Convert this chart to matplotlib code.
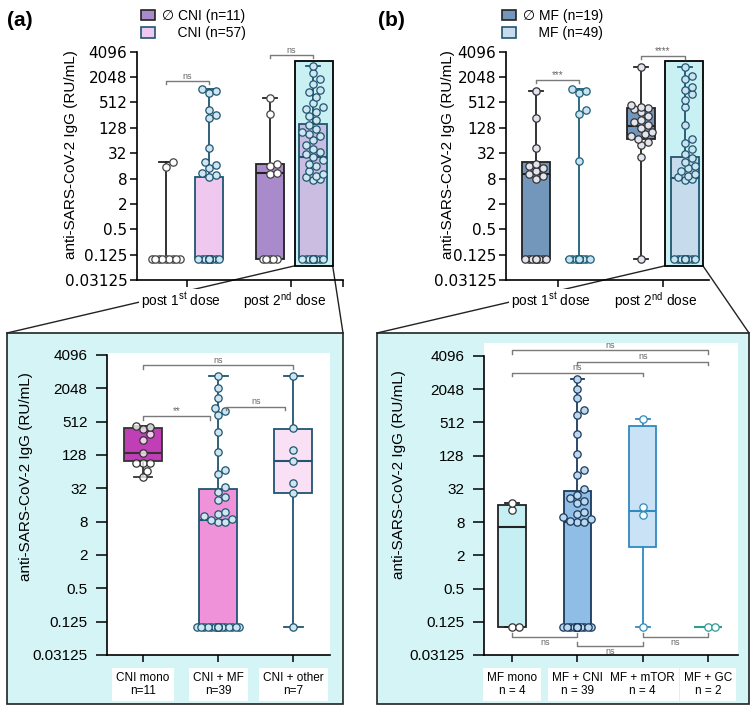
import numpy as np
import matplotlib.pyplot as plt
from matplotlib.patches import Rectangle, Patch
from matplotlib.lines import Line2D
from matplotlib.ticker import NullLocator

plt.rcParams['font.family'] = ['Liberation Sans', 'DejaVu Sans']
plt.rcParams['mathtext.fontset'] = 'custom'
plt.rcParams['mathtext.rm'] = 'Liberation Sans'
plt.rcParams['axes.linewidth'] = 1.2

W, H = 756, 711

# ---------------- data (anti-SARS-CoV-2 IgG, RU/mL) ----------------
ytick_vals = [2.0 ** k for k in (-5, -3, -1, 1, 3, 5, 7, 9, 11, 13)]
ytick_labels = ['0.03125', '0.125', '0.5', '2', '8', '32', '128', '512', '2048', '4096']
dose_labels = [r'post 1$^{\mathrm{st}}$ dose', r'post 2$^{\mathrm{nd}}$ dose']

# (a) top: without CNI / with CNI
a1_nocni = [0.1] * 9 + [15, 20]
a1_cni = [0.1] * 20 + [8.8, 9.5, 11, 14, 17, 20, 43, 215, 256, 340, 850, 950, 1070]
a2_nocni = [0.1] * 5 + [10, 11, 16, 18, 270, 650]
a2_cni = [0.1] * 14 + [7.5, 8, 8.5, 9, 10, 12, 16, 18, 22, 26, 30, 35, 40, 50, 64, 80, 90,
                       100, 120, 150, 200, 250, 300, 350, 400, 500, 700, 900, 1000, 1400,
                       1800, 2500, 3700]
a_top_lo = [0.1, 0.1, 0.1, 0.1]
a_top_q1 = [0.1, 0.1, 0.1, 0.1]
a_top_med = [0.1, 0.1, 11, 26]
a_top_q3 = [0.1, 8.8, 18, 154]
a_top_hi = [20, 1070, 650, 3700]

# (b) top: without MF / with MF
b1_nomf = [0.1] * 9 + [8, 9, 10, 12, 14, 16, 18, 43, 215, 975]
b1_mf = [0.1] * 20 + [21, 270, 340, 850, 950, 1070]
b2_nomf = [0.1, 26, 50, 60, 70, 80, 90, 100, 130, 150, 180, 200, 250, 300, 350, 380, 400,
           450, 3600]
b2_mf = [0.1] * 14 + [7.5, 8, 8.5, 9, 10, 12, 14, 16, 20, 25, 30, 40, 55, 70, 150, 400, 600,
                      800, 1000, 1200, 1800, 2200, 3600]
b_top_lo = [0.1, 0.1, 0.1, 0.1]
b_top_q1 = [0.1, 0.1, 70, 0.1]
b_top_med = [10, 0.1, 143, 8.4]
b_top_q3 = [19.4, 0.1, 372, 26]
b_top_hi = [975, 1070, 3600, 3600]

# (a) bottom: CNI subgroups after 2nd dose
cni_groups = ['CNI mono\nn=11', 'CNI + MF\nn=39', 'CNI + other\nn=7']
cni_mono = [52, 67, 93, 93, 93, 137, 239, 306, 372, 410, 430]
cni_mf = [0.1] * 18 + [8, 8, 8.5, 9, 10, 11, 12, 20, 22, 28, 34, 57, 70, 147, 338, 676, 800,
                       891, 1350, 2048, 3400]
cni_other = [0.1, 26, 40, 100, 158, 388, 3400]
a_bot_lo = [52, 0.1, 0.1]
a_bot_q1 = [100, 0.1, 26]
a_bot_med = [137, 8.6, 100]
a_bot_q3 = [399, 31, 377]
a_bot_hi = [430, 3400, 3400]

# (b) bottom: MF subgroups after 2nd dose
mf_groups = ['MF mono\nn = 4', 'MF + CNI\nn = 39', 'MF + mTOR\nn = 4', 'MF + GC\nn = 2']
mf_mono = [0.1, 0.1, 13, 18]
mf_cni = [0.1] * 18 + [8, 8, 8.5, 9, 10, 11, 12, 18, 19, 22, 25, 32, 56, 69, 137, 315, 700,
                       860, 1400, 2048, 3100]
mf_mtor = [0.1, 10.7, 15, 600]
mf_gc = [0.1, 0.1]
b_bot_lo = [0.1, 0.1, 0.1, 0.1]
b_bot_q1 = [0.1, 0.1, 2.8, 0.1]
b_bot_med = [6.6, 8.1, 12.7, 0.1]
b_bot_q3 = [16.3, 29.7, 440, 0.1]
b_bot_hi = [18, 3100, 600, 0.1]

fig = plt.figure(figsize=(W / 100, H / 100), dpi=100)


def fpos(l, t, r, b):
    return [l / W, 1 - b / H, (r - l) / W, (b - t) / H]


def setup_y(ax, top_exp=13, tick_font=None, label_xy=(-0.3, 0.5), tlen=5, tpad=2):
    ax.set_yscale('log', base=2)
    ax.set_ylim(2.0 ** -5, 2.0 ** top_exp)
    ax.set_yticks(ytick_vals)
    ax.set_yticklabels(ytick_labels, fontsize=11, family=tick_font)
    ax.yaxis.set_minor_locator(NullLocator())
    ax.spines['left'].set_bounds(2.0 ** -5, 2.0 ** 13)
    ax.spines['top'].set_visible(False)
    ax.spines['right'].set_visible(False)
    ax.tick_params(length=5, width=1.1, pad=2)
    ax.tick_params(axis='y', length=tlen, pad=tpad)
    ax.set_ylabel('anti-SARS-CoV-2 IgG (RU/mL)', fontsize=11)
    ax.yaxis.set_label_coords(*label_xy)


def dose_axis(ax, ticks, extra=()):
    # tick marks at the dose positions, labels drawn slightly left of them
    ax.set_xticks(list(ticks) + list(extra))
    ax.set_xticklabels([])
    for x, lab in zip(ticks, dose_labels):
        ax.text(x - 0.16, -0.092, lab, transform=ax.get_xaxis_transform(), ha='center',
                va='center', fontsize=9.8, zorder=6,
                bbox=dict(facecolor='white', edgecolor='none', pad=1))


def draw_boxes(ax, pos, width, lo, q1, med, q3, hi, faces, edges):
    stats = [dict(whislo=a, q1=b, med=c, q3=d, whishi=e)
             for a, b, c, d, e in zip(lo, q1, med, q3, hi)]
    bp = ax.bxp(stats, positions=pos, widths=width, patch_artist=True,
                showfliers=False, manage_ticks=False)
    for i, box in enumerate(bp['boxes']):
        box.set(facecolor=faces[i], edgecolor=edges[i], linewidth=1.3, zorder=2)
        bp['medians'][i].set(color=edges[i], lw=1.5, zorder=3)
        for ln in bp['whiskers'][2 * i:2 * i + 2] + bp['caps'][2 * i:2 * i + 2]:
            ln.set(color=edges[i], lw=1.3, zorder=2)


def swarm(ax, pos, vals, half, face, edge, d=7.0):
    # simple beeswarm, done in pixel space
    vals = np.asarray(vals, float)
    disp = ax.transData.transform(np.column_stack([np.full(len(vals), pos), vals]))
    x0 = disp[0, 0]
    half_px = ax.transData.transform((pos + half, 1))[0] - x0
    ys = disp[:, 1]
    offs = np.zeros(len(vals))
    placed = []
    step = d / 2
    for i in np.argsort(ys):
        best, best_gap = 0.0, -1.0
        k = 0
        while True:
            off = ((k + 1) // 2) * step * (1 if k % 2 else -1)
            k += 1
            if abs(off) > half_px:
                break
            gap = min([np.hypot(off - px, ys[i] - py) for px, py in placed] or [np.inf])
            if gap >= d:
                best = off
                break
            if gap > best_gap:
                best, best_gap = off, gap
        placed.append((best, ys[i]))
        offs[i] = best
    xs = ax.transData.inverted().transform(np.column_stack([x0 + offs, ys]))[:, 0]
    ax.scatter(xs, vals, s=28, facecolor=face, edgecolor=edge, lw=0.9, zorder=4,
               clip_on=False)


def bracket(ax, x1, x2, y, text, below=False, fs=6.5):
    f = 2 ** 0.22
    yt = y * f if below else y / f
    ax.plot([x1, x1, x2, x2], [yt, y, y, yt], color='#7a7a7a', lw=1, clip_on=False, zorder=5)
    if below:
        ax.text((x1 + x2) / 2, y / 2 ** 0.08, text, ha='center', va='top', fontsize=fs,
                color='#666666')
    else:
        ax.text((x1 + x2) / 2, y * 2 ** 0.02, text, ha='center', va='bottom', fontsize=fs,
                color='#666666')


def to_fig(ax, x, y):
    px = ax.transData.transform((x, y))
    return px[0] / W, px[1] / H


# ---------------- cyan background panels ----------------
panel_a = (7, 333, 343, 704)
panel_b = (377, 333, 749, 704)
for l, t, r, b in (panel_a, panel_b):
    fig.add_artist(Rectangle((l / W, 1 - b / H), (r - l) / W, (b - t) / H,
                             transform=fig.transFigure, facecolor='#d5f4f6',
                             edgecolor='#222222', lw=1.2, zorder=-2))

top_pos = [0, 1, 2.42, 3.42]
hl_color = '#c9f1f4'
navy = '#1f5570'

# ---------------- (a) top ----------------
ax1 = fig.add_axes(fpos(137, 51.7, 343, 280))
ax1.set_facecolor('none')
setup_y(ax1, tick_font='DejaVu Sans', label_xy=((78 - 137) / 206, 0.55))
ax1.set_xlim(-0.67, 4.12)
dose_axis(ax1, [0.5, 2.92], extra=[4.12])
hl_a = (top_pos[3] - 0.42, 2 ** -3.88, 0.88, 2 ** 12.27 - 2 ** -3.88)
ax1.add_patch(Rectangle(hl_a[:2], hl_a[2], hl_a[3], facecolor=hl_color, edgecolor='black',
                        lw=1.3, zorder=1))
draw_boxes(ax1, top_pos, 0.65, a_top_lo, a_top_q1, a_top_med, a_top_q3, a_top_hi,
           ['#a98aca', '#eec8ef', '#a98aca', '#cbbde2'],
           ['#222222', navy, '#222222', navy])
for p, vals, fc, ec, hw in zip(top_pos, [a1_nocni, a1_cni, a2_nocni, a2_cni],
                               ['white', '#cfe6f0', 'white', '#cfe6f0'],
                               ['#444444', navy, '#444444', navy],
                               [0.36, 0.3, 0.3, 0.3]):
    swarm(ax1, p, vals, hw, fc, ec)
bracket(ax1, top_pos[0], top_pos[1], 2 ** 10.69, 'ns')
bracket(ax1, top_pos[2], top_pos[3], 2 ** 12.74, 'ns')

# ---------------- (b) top ----------------
ax2 = fig.add_axes(fpos(506, 51.7, 709, 280))
ax2.set_facecolor('none')
setup_y(ax2, tick_font='DejaVu Sans', label_xy=((455 - 506) / 203, 0.55))
ax2.set_xlim(-0.69, 3.98)
dose_axis(ax2, [0.5, 2.92])
hl_b = (top_pos[3] - 0.45, 2 ** -3.88, 0.87, 2 ** 12.27 - 2 ** -3.88)
ax2.add_patch(Rectangle(hl_b[:2], hl_b[2], hl_b[3], facecolor=hl_color, edgecolor='black',
                        lw=1.3, zorder=1))
draw_boxes(ax2, top_pos, 0.65, b_top_lo, b_top_q1, b_top_med, b_top_q3, b_top_hi,
           ['#7397bb', 'none', '#7397bb', '#c6dcec'],
           ['#222222', '#1f5f78', '#222222', navy])
for p, vals, fc, ec in zip(top_pos, [b1_nomf, b1_mf, b2_nomf, b2_mf],
                           ['#e3e5ee', '#c9e4ef', '#e3e5ee', '#c9e4ef'],
                           ['#333333', '#1f5f78', '#333333', navy]):
    swarm(ax2, p, vals, 0.3, fc, ec)
bracket(ax2, top_pos[0], top_pos[1], 2 ** 10.77, '***', fs=7)
bracket(ax2, top_pos[2], top_pos[3], 2 ** 12.66, '****', fs=7)

# ---------------- (a) bottom ----------------
ax3 = fig.add_axes(fpos(107, 353, 330, 655))
ax3.set_facecolor('white')
setup_y(ax3, 13.12, label_xy=((33 - 107) / 223, 0.59), tlen=8, tpad=6)
bot_a_pos = [0, 1, 2]
ax3.set_xlim(-0.48, 2.49)
ax3.set_xticks(bot_a_pos)
ax3.set_xticklabels(cni_groups, fontsize=8.5, linespacing=1.15)
ax3.tick_params(axis='x', pad=7)
draw_boxes(ax3, bot_a_pos, 0.5, a_bot_lo, a_bot_q1, a_bot_med, a_bot_q3, a_bot_hi,
           ['#c13fb6', '#f092d9', '#f9e0f5'], ['#333333', navy, navy])
for p, vals, fc, ec in zip(bot_a_pos, [cni_mono, cni_mf, cni_other],
                           [(1, 1, 1, 0.75), '#cfe6f0', '#cfe6f0'],
                           ['#333333', navy, navy]):
    swarm(ax3, p, vals, 0.28, fc, ec)
bracket(ax3, 0, 0.89, 2 ** 9.34, '**', fs=7)
bracket(ax3, 1.11, 1.89, 2 ** 9.9, 'ns')
bracket(ax3, 0, 2, 2 ** 12.4, 'ns')

# ---------------- (b) bottom ----------------
ax4 = fig.add_axes(fpos(484, 343, 738, 655))
ax4.set_facecolor('white')
setup_y(ax4, 13.78, label_xy=((406 - 484) / 254, 0.577), tlen=8, tpad=6)
bot_b_pos = [0, 1, 2, 3]
ax4.set_xlim(-0.43, 3.46)
ax4.set_xticks(bot_b_pos)
ax4.set_xticklabels(mf_groups, fontsize=8.5, linespacing=1.15)
ax4.tick_params(axis='x', pad=7)
draw_boxes(ax4, bot_b_pos, 0.42, b_bot_lo, b_bot_q1, b_bot_med, b_bot_q3, b_bot_hi,
           ['#c6eff3', '#8fbde6', '#c9e2f5', 'none'],
           ['#222222', '#1b3a5c', '#2e8ac0', '#2f9a9a'])
for p, vals, fc, ec in zip(bot_b_pos, [mf_mono, mf_cni, mf_mtor, mf_gc],
                           ['white', '#bcd8ee', 'white', 'white'],
                           ['#333333', '#1b3a5c', '#2e8ac0', '#2f9a9a']):
    swarm(ax4, p, vals, 0.24, fc, ec)
bracket(ax4, 0, 3, 2 ** 13.36, 'ns')
bracket(ax4, 1, 3, 2 ** 12.66, 'ns')
bracket(ax4, 0, 2, 2 ** 12.0, 'ns')
bracket(ax4, 0, 1, 2 ** -3.9, 'ns', below=True)
bracket(ax4, 1, 2, 2 ** -4.43, 'ns', below=True)
bracket(ax4, 2, 3, 2 ** -3.9, 'ns', below=True)

for ax in (ax3, ax4):
    for t in ax.get_xticklabels():
        t.set_bbox(dict(boxstyle='square,pad=0.35', facecolor='white', edgecolor='none'))

# ---------------- zoom lines from highlighted boxes to panels ----------------
for ax, hl, (l, t, r, b) in ((ax1, hl_a, panel_a), (ax2, hl_b, panel_b)):
    x0, y0 = to_fig(ax, hl[0], hl[1])
    x1, _ = to_fig(ax, hl[0] + hl[2], hl[1])
    for (xa, ya), xb in (((x0, y0), l), ((x1, y0), r)):
        fig.add_artist(Line2D([xa, xb / W], [ya, 1 - t / H], transform=fig.transFigure,
                              color='#222222', lw=1, zorder=-1))

# ---------------- legends and panel labels ----------------
fig.legend(handles=[Patch(facecolor='#a98aca', edgecolor='#222222', lw=1.2),
                    Patch(facecolor='#eec8ef', edgecolor=navy, lw=1.2)],
           labels=['\u2205 CNI (n=11)', '    CNI (n=57)'],
           loc='upper left', bbox_to_anchor=(141 / W, 1 - 9 / H), frameon=False,
           fontsize=10, handlelength=1.0, handleheight=0.8, handletextpad=0.5,
           labelspacing=0.25, borderpad=0, borderaxespad=0)
fig.legend(handles=[Patch(facecolor='#7397bb', edgecolor='#222222', lw=1.2),
                    Patch(facecolor='#c6dcec', edgecolor=navy, lw=1.2)],
           labels=['\u2205 MF (n=19)', '    MF (n=49)'],
           loc='upper left', bbox_to_anchor=(502 / W, 1 - 9 / H), frameon=False,
           fontsize=10, handlelength=1.0, handleheight=0.8, handletextpad=0.5,
           labelspacing=0.25, borderpad=0, borderaxespad=0)

fig.text(7 / W, 1 - 21 / H, '(a)', fontsize=15, fontweight='bold', va='center')
fig.text(378 / W, 1 - 21 / H, '(b)', fontsize=15, fontweight='bold', va='center')

fig.savefig('out.png', dpi=100)
